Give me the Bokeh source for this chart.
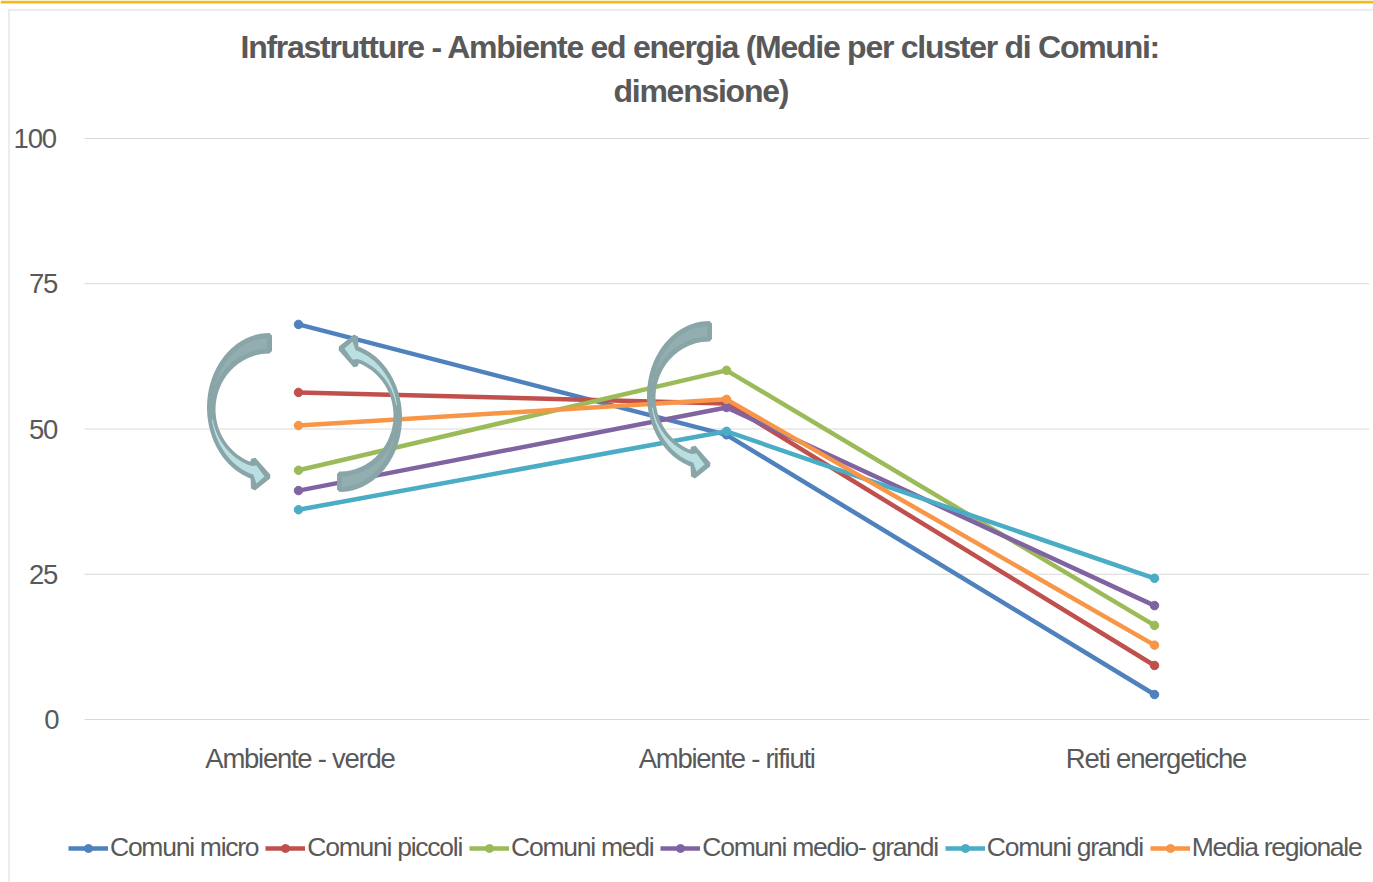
import numpy as np
from bokeh.embed import file_html
from bokeh.models import FixedTicker, Label, Legend, LegendItem, PolyAnnotation, Range1d
from bokeh.plotting import figure
from bokeh.resources import INLINE

categories = ["Ambiente - verde", "Ambiente - rifiuti", "Reti energetiche"]
comuni_micro = [68.0, 49.0, 4.3]
comuni_piccoli = [56.3, 54.4, 9.3]
comuni_medi = [42.9, 60.1, 16.2]
comuni_medio_grandi = [39.4, 53.7, 19.6]
comuni_grandi = [36.1, 49.6, 24.3]
media_regionale = [50.6, 55.1, 12.8]
series_names = ["Comuni micro", "Comuni piccoli", "Comuni medi", "Comuni medio- grandi", "Comuni grandi", "Media regionale"]
series_values = [comuni_micro, comuni_piccoli, comuni_medi, comuni_medio_grandi, comuni_grandi, media_regionale]
series_colors = ["#4f81bd", "#c0504d", "#9bbb59", "#8064a2", "#4bacc6", "#f79646"]
y_ticks = [0, 25, 50, 75, 100]
title_lines = ["Infrastrutture - Ambiente ed energia (Medie per cluster di Comuni:", "dimensione)"]
FONT = "Liberation Sans"
TEXT = "#595959"

W, H = 1373, 882
PX_X1, PX_X_STEP = 298, 428
PX_Y0, PX_Y_UNIT = 719, 5.81
x_pos = [1, 2, 3]
x_start = 1 - PX_X1 / PX_X_STEP
x_end = 1 + (W - PX_X1) / PX_X_STEP
label_shift = 11.5 / PX_X_STEP

p = figure(width=W, height=H, output_backend="svg", toolbar_location=None,
           x_range=Range1d(x_start, x_end),
           y_range=Range1d((PX_Y0 - H) / PX_Y_UNIT, PX_Y0 / PX_Y_UNIT),
           min_border_left=0, min_border_right=0, min_border_top=0, min_border_bottom=0,
           outline_line_color=None, background_fill_color="white", border_fill_color="white")
p.margin = (0, 0, 0, 0)
p.styles = {"letter-spacing": "-1.26px"}
p.extra_x_ranges["labels"] = Range1d(x_start - label_shift, x_end - label_shift)

p.grid.visible = False
p.yaxis.ticker = FixedTicker(ticks=y_ticks)
p.yaxis.fixed_location = 0.5
p.yaxis.axis_line_color = None
p.yaxis.major_tick_line_color = None
p.yaxis.minor_tick_line_color = None
p.yaxis.major_label_standoff = 19
p.yaxis.major_label_text_font = FONT
p.yaxis.major_label_text_font_size = "27.5px"
p.yaxis.major_label_text_color = TEXT
p.xaxis.x_range_name = "labels"
p.xaxis.ticker = FixedTicker(ticks=x_pos)
p.xaxis.major_label_overrides = dict(zip(x_pos, categories))
p.xaxis.fixed_location = 0
p.xaxis.axis_line_color = None
p.xaxis.major_tick_line_color = None
p.xaxis.minor_tick_line_color = None
p.xaxis.major_label_standoff = 17
p.xaxis.major_label_text_font = FONT
p.xaxis.major_label_text_font_size = "27.5px"
p.xaxis.major_label_text_color = TEXT

p.segment([0.5] * len(y_ticks), y_ticks, [3.502] * len(y_ticks), y_ticks, line_color="#d9d9d9", line_width=1)

items = []
for name, vals, col in zip(series_names, series_values, series_colors):
    r1 = p.line(x_pos, vals, line_color=col, line_width=4.5)
    r2 = p.scatter(x_pos, vals, size=8.5, fill_color=col, line_color=col)
    items.append(LegendItem(label=name, renderers=[r1, r2]))

legend = Legend(items=items, orientation="horizontal", location=(68, 19), spacing=7,
                glyph_width=40, glyph_height=20, label_standoff=2, padding=0, margin=0,
                border_line_color=None, background_fill_alpha=0,
                label_text_font=FONT, label_text_font_size="26.5px", label_text_color=TEXT)
p.add_layout(legend, "center")

for line, x, y in zip(title_lines, [240, 613], [46, 90]):
    p.add_layout(Label(x=x, y=y, x_units="canvas", y_units="canvas", text=line,
                       text_align="left", text_baseline="middle", text_font=FONT,
                       text_font_size="32px", text_font_style="bold", text_color=TEXT))

def poly(xs, ys, fill, line=None, w=0):
    p.add_layout(PolyAnnotation(xs=list(xs), ys=list(ys), xs_units="canvas", ys_units="canvas",
                                fill_color=fill, fill_alpha=1, line_color=line, line_alpha=1 if line else 0,
                                line_width=w))

poly([0, W, W, 0], [0, 0, 3, 3], "#f2bc1c")
poly([8, W, W, 8], [9, 9, 10, 10], "#d9d9d9")
poly([8, 9, 9, 8], [9, 9, H, H], "#d9d9d9")

# Curved arrows
def arc(cx, cy, a, b, t0, t1, n=40):
    t = np.radians(np.linspace(t0, t1, n))
    return cx + a * np.cos(t), cy - b * np.sin(t)

ox, oy = arc(269, 407, 60, 72, 90, 254)
ix, iy = arc(269, 409, 56.5, 58.5, 90, 252)
hx = np.array([253, 268, 253])
hy = np.array([488, 476, 459])
ax = np.concatenate([ox, hx, ix[::-1]])
ay = np.concatenate([oy, hy, iy[::-1]])
lox, loy = arc(269, 407, 58.5, 70, 190, 254, 20)
lix, liy = arc(269, 409, 57.5, 59.5, 190, 252, 20)
lhx = np.array([256, 264, 256])
lhy = np.array([483, 476, 465])
lx = np.concatenate([lox, lhx, lix[::-1]])
ly = np.concatenate([loy, lhy, liy[::-1]])

def arrow(fx, fy):
    poly(fx(ax), fy(ay), "#93aeb0", "#8aa5a7", 5)
    poly(fx(lx), fy(ly), "#b9dfe3")

arrow(lambda x: x, lambda y: y)
arrow(lambda x: 608 - x, lambda y: 824 - y)
arrow(lambda x: x + 440, lambda y: y - 12)

open("out.html", "w").write(file_html(p, INLINE))
